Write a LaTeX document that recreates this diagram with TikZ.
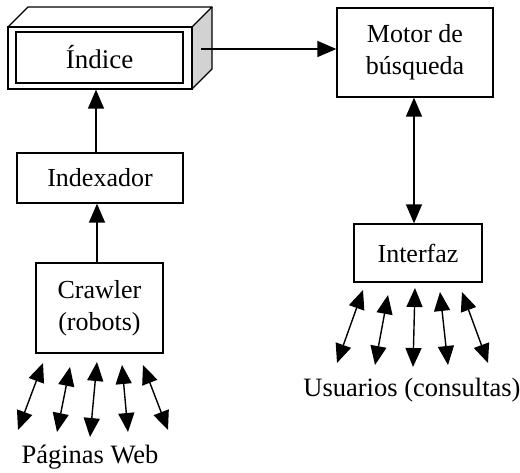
\documentclass[tikz,border=0pt]{standalone}
\usepackage{fontspec}
\setmainfont{Liberation Serif}
\usetikzlibrary{arrows.meta}
\begin{document}
\begin{tikzpicture}[x=1pt,y=-1pt,
  box/.style={draw, line width=1.3pt, inner sep=0pt, align=center, font=\fontsize{26}{32}\selectfont},
  lbl/.style={inner sep=0pt, font=\fontsize{26.5}{32}\selectfont},
  tip/.style={},
  arr/.style={line width=1.4pt, -{Triangle[length=19pt,width=16pt]}},
  darr/.style={line width=1.4pt, {Triangle[length=19pt,width=16pt]}-{Triangle[length=19pt,width=16pt]}}]
\useasboundingbox (0,0) rectangle (520,473);
% 3D index box
\fill[gray!35] (192,27) -- (212,7) -- (212,69) -- (192,89) -- cycle;
\draw[line width=1.3pt, line join=round] (8,27) -- (28,7) -- (212,7) -- (192,27);
\draw[line width=1.3pt, line join=round] (212,7) -- (212,69) -- (192,89);
\node[draw, line width=1.3pt, minimum width=184pt, minimum height=62pt, inner sep=0pt] (front) at (100,58) {};
\node[box, line width=2pt, minimum width=167pt, minimum height=51pt, font=\fontsize{27}{32}\selectfont] (indice) at (99.5,57.5) {Índice};
\coordinate (rf) at (201,49);
% boxes
\node[box, minimum width=156pt, minimum height=89pt] (motor) at (415,52.5) {Motor de\\búsqueda};
\node[box, minimum width=128pt, minimum height=58pt] (interfaz) at (418,253) {Interfaz};
\node[box, minimum width=166pt, minimum height=50pt] (indexador) at (100,178) {Indexador};
\node[box, minimum width=127pt, minimum height=90pt] (crawler) at (99.5,308) {Crawler\\(robots)};
% connectors
\draw[arr] (rf) -- (rf -| motor.west);
\draw[arr] (indexador.north -| 96,0) -- (front.south -| 96,0);
\draw[arr] (crawler.north -| 97,0) -- (indexador.south -| 97,0);
\draw[darr] (motor.south -| 414,0) -- (interfaz.north -| 414,0);
% page arrows
\foreach \i/\a/\b/\c/\d in {1/43/363/18/430, 2/70/367/57/432, 3/97/362/90/437, 4/122/365/128/432, 5/143/365/168/430}{
  \coordinate (pt\i) at (\a,\b);
  \coordinate (pb\i) at (\c,\d);
  \draw[darr] (pt\i) -- (pb\i);
}
\foreach \i/\a/\b/\c/\d in {1/363/290/337/363, 2/388/295/375/365, 3/415/288/413/367, 4/440/292/448/365, 5/462/292/488/363}{
  \coordinate (ut\i) at (\a,\b);
  \coordinate (ub\i) at (\c,\d);
  \draw[darr] (ut\i) -- (ub\i);
}
\node[lbl] (paginas) at (90,457) {Páginas Web};
\node[lbl] (usuarios) at (412,390) {Usuarios (consultas)};
\end{tikzpicture}
\end{document}
